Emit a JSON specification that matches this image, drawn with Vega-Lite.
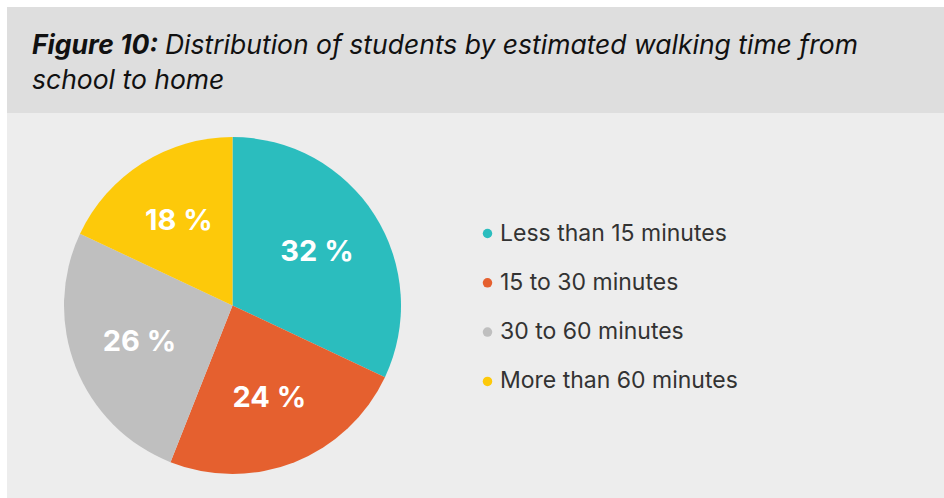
{
  "$schema": "https://vega.github.io/schema/vega-lite/v6.json",
  "background": "#ffffff",
  "padding": {"left": 7, "top": 7, "right": 0, "bottom": 0},
  "autosize": {"type": "pad"},
  "spacing": 0,
  "config": {
    "view": {"stroke": null},
    "concat": {"spacing": 0},
    "font": "Inter"
  },
  "datasets": {
    "slices": [
      {"category": "Less than 15 minutes", "share": 32, "label": "32 %", "rank": 1},
      {"category": "15 to 30 minutes", "share": 24, "label": "24 %", "rank": 2},
      {"category": "30 to 60 minutes", "share": 26, "label": "26 %", "rank": 3},
      {"category": "More than 60 minutes", "share": 18, "label": "18 %", "rank": 4}
    ],
    "heading": [
      {"lead": "Figure 10:", "rest": "Distribution of students by estimated walking time from", "line2": "school to home"}
    ]
  },
  "vconcat": [
    {
      "width": 937,
      "height": 106,
      "view": {"fill": "#dedede", "stroke": null},
      "data": {"name": "heading"},
      "layer": [
        {
          "mark": {"type": "text", "x": 25, "y": 47, "align": "left", "baseline": "alphabetic", "font": "Inter", "fontSize": 26.5, "fontWeight": "bold", "fontStyle": "italic", "color": "#111111"},
          "encoding": {"text": {"field": "lead"}}
        },
        {
          "mark": {"type": "text", "x": 158, "y": 47, "align": "left", "baseline": "alphabetic", "font": "Inter", "fontSize": 26.5, "fontStyle": "italic", "color": "#111111"},
          "encoding": {"text": {"field": "rest"}}
        },
        {
          "mark": {"type": "text", "x": 25, "y": 82, "align": "left", "baseline": "alphabetic", "font": "Inter", "fontSize": 26.5, "fontStyle": "italic", "color": "#111111"},
          "encoding": {"text": {"field": "line2"}}
        }
      ]
    },
    {
      "hconcat": [
        {
          "width": 451,
          "height": 385,
          "view": {"fill": "#ededed", "stroke": null},
          "data": {"name": "slices"},
          "encoding": {
            "theta": {"field": "share", "type": "quantitative", "stack": true},
            "order": {"field": "rank", "type": "quantitative"},
            "color": {
              "field": "category",
              "type": "nominal",
              "sort": ["Less than 15 minutes", "15 to 30 minutes", "30 to 60 minutes", "More than 60 minutes"],
              "scale": {
                "domain": ["Less than 15 minutes", "15 to 30 minutes", "30 to 60 minutes", "More than 60 minutes"],
                "range": ["#2bbdbe", "#e5602f", "#bfbfbf", "#fdc90a"]
              },
              "legend": {
                "orient": "none",
                "legendX": 469,
                "legendY": 215,
                "title": null,
                "symbolType": "circle",
                "symbolSize": 90,
                "symbolStrokeWidth": 0,
                "labelFont": "Inter",
                "labelFontSize": 23,
                "labelColor": "#333333",
                "labelOffset": 1,
                "labelLimit": 500,
                "rowPadding": 25.3,
                "padding": 0
              }
            }
          },
          "layer": [
            {"mark": {"type": "arc", "outerRadius": 168.5}},
            {
              "mark": {"type": "text", "radius": 100, "font": "Inter", "fontSize": 29, "fontWeight": "bold", "fill": "#ffffff", "align": "center", "baseline": "middle"},
              "encoding": {"text": {"field": "label"}, "color": {"value": "#ffffff"}}
            }
          ]
        },
        {
          "width": 486,
          "height": 385,
          "view": {"fill": "#ededed", "stroke": null},
          "data": {"values": [{"blank": ""}]},
          "mark": {"type": "text"},
          "encoding": {"text": {"field": "blank"}}
        }
      ]
    }
  ]
}
